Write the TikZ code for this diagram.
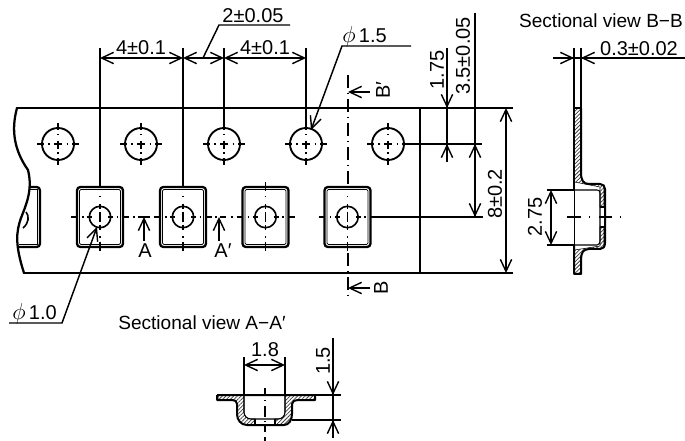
\documentclass[tikz,border=0pt]{standalone}
\usepackage{fontspec}
\setmainfont{Liberation Sans}
\usetikzlibrary{arrows.meta,patterns.meta}
\newcommand{\phisym}{\scalebox{1.2}{$\phi$}}
\tikzset{
  x=0.75pt,y=-0.75pt,
  thinl/.style={line width=1.1pt,line cap=butt},
  tapel/.style={line width=1.7pt,line cap=round,line join=round},
  dimtip/.style={thinl,{Straight Barb[length=9pt,width=8.5pt,line width=1.05pt]}-{Straight Barb[length=9pt,width=8.5pt,line width=1.05pt]}},
  endtip/.style={thinl,-{Straight Barb[length=9pt,width=8.5pt,line width=1.05pt]}},
  lab/.style={font=\fontsize{15pt}{17pt}\selectfont,inner sep=0pt,text=black},
  title/.style={font=\fontsize{14.3pt}{17pt}\selectfont,inner sep=0pt,text=black},
  cl/.style={line width=0.8pt},
  hatched/.style={pattern={Lines[angle=45,distance=2pt,line width=0.55pt]},pattern color=black!75},
  secline/.style={line width=1.5pt,line join=round},
}
\begin{document}
\begin{tikzpicture}
\useasboundingbox (0,0) rectangle (685,441);
\fill[white] (0,0) rectangle (685,441);

% tape outline
\draw[tapel] (17,108) .. controls (11,130) and (14,150) .. (28,170)
  .. controls (33,190) and (26,205) .. (21,218) .. controls (16,232) and (15,245) .. (24,273);
\draw[tapel] (17,108) -- (420,108);
\draw[tapel] (24,273) -- (420,273);
\draw[tapel] (420,108) -- (420,273);
\draw[thinl] (420,108) -- (513,108);
\draw[thinl] (420,273) -- (513,273);

% holes
\foreach \cx in {58,141,224,306,388}{
  \draw[line width=1.4pt] (\cx,144) circle (16);
  \draw[cl] (\cx-21,144) -- (\cx-14,144) (\cx+14,144) -- (\cx+21,144)
            (\cx,144-21) -- (\cx,144-14) (\cx,144+14) -- (\cx,144+21)
            (\cx-4,144) -- (\cx+4,144) (\cx,144-3) -- (\cx,144+5)
            (\cx-10,144) -- (\cx-8.5,144) (\cx+8.5,144) -- (\cx+10,144)
            (\cx,144-10) -- (\cx,144-8.5) (\cx,144+8.5) -- (\cx,144+10);
}

% pockets
\foreach \cx in {100,183,265.5,347.5}{
  \draw[line width=1.7pt,rounded corners=2.5] (\cx-23,187) rectangle (\cx+23,247);
  \draw[line width=0.5pt,rounded corners=1] (\cx-20.5,189.5) rectangle (\cx+20.5,244.5);
  \draw[line width=1.2pt] (\cx,217) circle (10.7);
  \draw[cl] (\cx-29,217) -- (\cx-23,217) (\cx+23,217) -- (\cx+29,217)
            (\cx-18,217) -- (\cx-16.5,217) (\cx+16.5,217) -- (\cx+18,217)
            (\cx-13,217) -- (\cx-8,217) (\cx+8,217) -- (\cx+13,217)
            (\cx,217-5) -- (\cx,217+5)
            (\cx,217-13) -- (\cx,217-8) (\cx,217+8) -- (\cx,217+13)
            (\cx,217-21) -- (\cx,217-19.5) (\cx,217+19.5) -- (\cx,217+21)
            (\cx,217+25) -- (\cx,217+34);
}
\draw[cl] (265.5,182) -- (265.5,191);
% partial pocket at left edge
\draw[line width=1.7pt,rounded corners=2.5] (29,187) -- (40,187) -- (40,247) -- (18,247);
\draw[line width=0.5pt] (29,189.5) -- (37.5,189.5) -- (37.5,244.5) -- (19,244.5);
\draw[line width=1.2pt] (26,212) .. controls (29.5,216) and (29,223) .. (23,228);

% centre-line pieces between pockets
\draw[cl] (133,217) -- (134.5,217) (138,217) -- (150,217) (153.5,217) -- (155,217);
\draw[cl] (215,217) -- (216.5,217) (220,217) -- (226,217) (231,217) -- (232.5,217);

% A arrows
\coordinate (atipa) at (144,217);
\coordinate (atailA) at (144,241);
\draw[endtip] (atailA) -- (atipa);
\node[lab] (labA) at (145,251) {A};
\coordinate (atipb) at (219,217);
\coordinate (atailb) at (219,241);
\draw[endtip] (atailb) -- (atipb);
\node[lab] (labAp) at (223,251) {A′};

% extension lines above tape
\draw[thinl] (100,48) -- (100,187);
\draw[thinl] (183,48) -- (183,187);
\draw[thinl] (224,48) -- (224,128);
\draw[thinl] (306,48) -- (306,128);

% pitch dimensions
\draw[dimtip] (100,58) -- (183,58);
\draw[dimtip] (183,58) -- (224,58);
\draw[dimtip] (224,58) -- (306,58);
\node[lab] (d1) at (141,48) {4±0.1};
\node[lab] (d2) at (265,48) {4±0.1};
\draw[thinl] (203,58) -- (219,25) -- (290,25);
\node[lab] (d3) at (253,16) {2±0.05};

% phi 1.5
\draw[endtip] (411,46) -- (342,46) -- (311,130);
\node[lab,anchor=base west] (p15) at (342,43) {\phisym\,1.5};

% phi 1.0
\draw[endtip] (9,323) -- (62,323) -- (97,227);
\node[lab,anchor=base west] (p10) at (12,320) {\phisym\,1.0};

% B centre line
\draw[cl,dash pattern=on 10pt off 3.5pt on 1pt off 3.5pt] (348,75) -- (348,187);
\draw[cl,dash pattern=on 1pt off 3.5pt on 10pt off 3.5pt] (348,247) -- (348,301);
\draw[endtip] (370,92) -- (348,92);
\node[lab,rotate=90] (labBp) at (383,90) {B′};
\draw[endtip] (370,288) -- (348,288);
\node[lab,rotate=90] (labB) at (381,288) {B};

% right dimensions
\draw[thinl] (447,48) -- (447,162);
\draw[endtip] (447,70) -- (447,108);
\draw[endtip] (447,162) -- (447,144);
\node[lab,rotate=90] (d175) at (437,70) {1.75};
\draw[thinl] (475,13) -- (475,217);
\draw[endtip] (475,170) -- (475,144);
\draw[endtip] (475,170) -- (475,217);
\node[lab,rotate=90] (d35) at (463,56) {3.5±0.05};
\draw[thinl] (409,144) -- (482,144);
\draw[thinl] (370,217) -- (483,217);
\draw[dimtip] (506,108) -- (506,273);
\node[lab,rotate=90] (d8) at (495,194) {8±0.2};

% Section B-B
\node[title] (tB) at (601,21) {Sectional view B−B};
\draw[thinl] (574,48) -- (574,108) (581,48) -- (581,108);
\draw[thinl] (553,58) -- (685,58);
\draw[endtip] (553,58) -- (574,58);
\draw[endtip] (600,58) -- (581,58);
\node[lab] (d03) at (639,49) {0.3±0.02};
\draw[hatched] (574.5,108) -- (574.5,182) -- (600,187) -- (600,207) -- (604,207) -- (604,186) -- (600,184)
  -- (589,184) .. controls (583,184) and (580.5,180) .. (580.5,172) -- (580.5,108) -- cycle;
\draw[hatched] (574.5,274) -- (574.5,250) -- (600,246) -- (600,227) -- (604,227) -- (604,245)
  .. controls (604,248) and (602,249) .. (600,249.5) -- (589,249.5)
  .. controls (583,249.5) and (580.5,253) .. (580.5,260) -- (580.5,274) -- cycle;
\fill[white] (575.5,190) rectangle (599,245);
\draw[secline] (574,108) -- (574,190);
\draw[secline] (574,108) -- (581,108);
\draw[secline] (581,108) -- (581,172) .. controls (581,180) and (583,184) .. (589,184)
  -- (600,184) .. controls (603,184) and (605,186) .. (605,189) -- (605,243)
  .. controls (605,247) and (603,249) .. (600,249) -- (589,249)
  .. controls (583,249) and (581,253) .. (581,260) -- (581,274) -- (574,274) -- (574,245);
\draw[line width=0.8pt] (575,190) -- (597,190) .. controls (599,190) and (600,191) .. (600,193) -- (600,241)
  .. controls (600,243) and (599,245) .. (597,245) -- (575,245);
\draw[thinl] (574.5,190) -- (574.5,245);
\fill[white] (600.6,207.5) rectangle (604.2,226.5);
\draw[line width=0.8pt] (600,207) -- (605,207) (600,227) -- (605,227);
\draw[thinl] (547,190) -- (575,190) (547,245) -- (575,245);
\draw[dimtip] (551,190) -- (551,245);
\node[lab,rotate=90] (d275) at (535,217) {2.75};
\draw[cl] (567,217) -- (581,217) (589,217) -- (590,217) (599,217) -- (612,217) (620,217) -- (621,217);

% Section A-A'
\node[title] (tA) at (202,323) {Sectional view A−A′};
\draw[hatched] (218,395.5) -- (244,395.5) -- (244,412) .. controls (244,416) and (247,419) .. (251,419) -- (255,419)
  -- (255,425) -- (247,425) .. controls (241,425) and (237,420) .. (237,414) -- (237,404)
  .. controls (237,401) and (235,400) .. (232,400) -- (218,400) -- cycle;
\draw[hatched] (315,395.5) -- (285,395.5) -- (285,412) .. controls (285,416) and (282,419) .. (278,419) -- (275,419)
  -- (275,425) -- (284,425) .. controls (289,425) and (292,420) .. (292,414) -- (292,404)
  .. controls (292,401) and (295,400) .. (298,400) -- (315,400) -- cycle;
\draw[secline] (217,395) -- (315,395) (217,395) -- (217,400) -- (232,400)
  .. controls (235,400) and (237,401) .. (237,404) -- (237,414)
  .. controls (237,420) and (241,425) .. (247,425) -- (284,425)
  .. controls (289,425) and (292,420) .. (292,414) -- (292,404)
  .. controls (292,401) and (295,400) .. (298,400) -- (315,400) -- (315,395);
\draw[line width=0.8pt] (244,396) -- (244,412) .. controls (244,416) and (247,419) .. (251,419) -- (278,419)
  .. controls (282,419) and (285,416) .. (285,412) -- (285,396);
\draw[line width=0.8pt] (255,419) -- (255,425) (275,419) -- (275,425);
\draw[thinl] (244,357) -- (244,396) (285,357) -- (285,396);
\draw[dimtip] (244,365) -- (285,365);
\node[lab] (d18) at (265,350) {1.8};
\draw[thinl] (333,338) -- (333,438);
\draw[endtip] (333,370) -- (333,395);
\draw[endtip] (333,438) -- (333,420);
\draw[thinl] (315,395) -- (341,395) (292,420) -- (341,420);
\node[lab,rotate=90] (d15) at (323,361) {1.5};
\draw[cl] (265,388) -- (265,396) (265,400) -- (265,401) (265,406) -- (265,417) (265,421) -- (265,422) (265,426) -- (265,432) (265,437) -- (265,441);
\end{tikzpicture}
\end{document}
